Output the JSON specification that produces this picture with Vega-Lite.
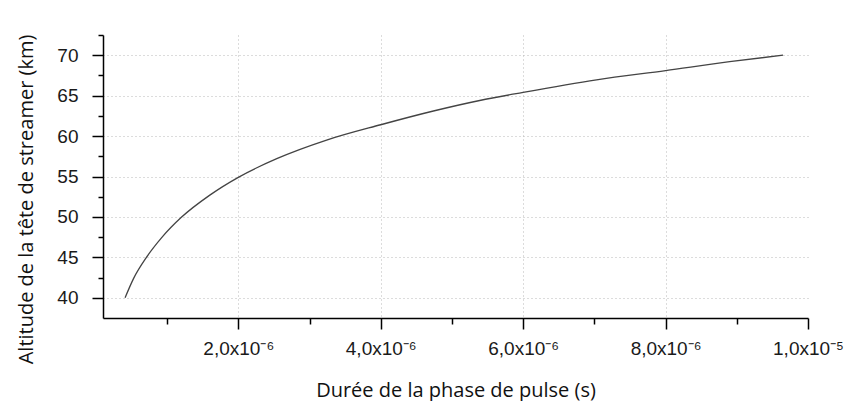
{
  "$schema": "https://vega.github.io/schema/vega-lite/v6.json",
  "autosize": "none",
  "padding": {"left": 103, "top": 35, "right": 39, "bottom": 83},
  "width": 705,
  "height": 283,
  "background": "white",
  "config": {"view": {"stroke": null}},
  "data": {"values": [
    {"t": 0.41e-6, "alt": 40.0},
    {"t": 0.53e-6, "alt": 42.4},
    {"t": 0.71e-6, "alt": 45.0},
    {"t": 0.93e-6, "alt": 47.5},
    {"t": 1.2e-6, "alt": 49.95},
    {"t": 1.6e-6, "alt": 52.7},
    {"t": 2.0e-6, "alt": 54.9},
    {"t": 2.54e-6, "alt": 57.2},
    {"t": 3.24e-6, "alt": 59.5},
    {"t": 4.0e-6, "alt": 61.4},
    {"t": 4.74e-6, "alt": 63.1},
    {"t": 5.39e-6, "alt": 64.4},
    {"t": 6.0e-6, "alt": 65.4},
    {"t": 7.03e-6, "alt": 66.95},
    {"t": 8.0e-6, "alt": 68.1},
    {"t": 8.9e-6, "alt": 69.2},
    {"t": 9.65e-6, "alt": 70.0}
  ]},
  "mark": {"type": "line", "color": "#444444", "strokeWidth": 1.3, "interpolate": "monotone"},
  "encoding": {
    "x": {
      "field": "t", "type": "quantitative",
      "scale": {"domain": [1e-7, 1e-5], "nice": false, "zero": false},
      "axis": {
        "title": "Durée de la phase de pulse (s)",
        "titleFont": "Open Sans", "titleFontSize": 20, "titleFontWeight": "normal", "titleColor": "#111111",
        "titleBaseline": "alphabetic", "titleY": 78,
        "values": [1e-6, 2e-6, 3e-6, 4e-6, 5e-6, 6e-6, 7e-6, 8e-6, 9e-6, 1e-5],
        "labelExpr": "abs(datum.value - 1e-5) < 1e-12 ? '1,0x10⁻⁵' : (round(datum.value*1e6) % 2 == 0 ? replace(format(datum.value*1e6, '.1f'), '.', ',') + 'x10⁻⁶' : '')",
        "labelFont": "Liberation Sans", "labelFontSize": 19, "labelColor": "#1a1a1a", "labelPadding": 10,
        "labelOverlap": false, "labelFlush": false,
        "domainColor": "#000000", "domainWidth": 1.5,
        "tickColor": "#000000", "tickWidth": 1.5,
        "tickSize": {"condition": {"test": "round(datum.value*1e6) % 2 == 0", "value": 11}, "value": 6},
        "grid": true, "gridColor": "#b8b8b8", "gridDash": [1, 3], "gridWidth": 1,
        "gridOpacity": {"condition": {"test": "round(datum.value*1e6) % 2 == 0 && datum.value < 9.5e-6", "value": 1}, "value": 0}
      }
    },
    "y": {
      "field": "alt", "type": "quantitative",
      "scale": {"domain": [37.5, 72.5], "nice": false, "zero": false},
      "axis": {
        "title": "Altitude de la tête de streamer (km)",
        "titleFont": "Open Sans", "titleFontSize": 20, "titleFontWeight": "normal", "titleColor": "#111111",
        "titleBaseline": "alphabetic", "titleX": -71, "titleY": 164,
        "values": [40, 42.5, 45, 47.5, 50, 52.5, 55, 57.5, 60, 62.5, 65, 67.5, 70, 72.5],
        "labelExpr": "datum.value % 5 == 0 ? format(datum.value, 'd') : ''",
        "labelFont": "Liberation Sans", "labelFontSize": 19, "labelColor": "#1a1a1a", "labelPadding": 14,
        "labelOverlap": false, "labelFlush": false,
        "domainColor": "#000000", "domainWidth": 1.5,
        "tickColor": "#000000", "tickWidth": 1.5,
        "tickSize": {"condition": {"test": "datum.value % 5 == 0", "value": 11}, "value": 5},
        "grid": true, "gridColor": "#b8b8b8", "gridDash": [1, 3], "gridWidth": 1,
        "gridOpacity": {"condition": {"test": "datum.value % 5 == 0", "value": 1}, "value": 0}
      }
    }
  }
}
